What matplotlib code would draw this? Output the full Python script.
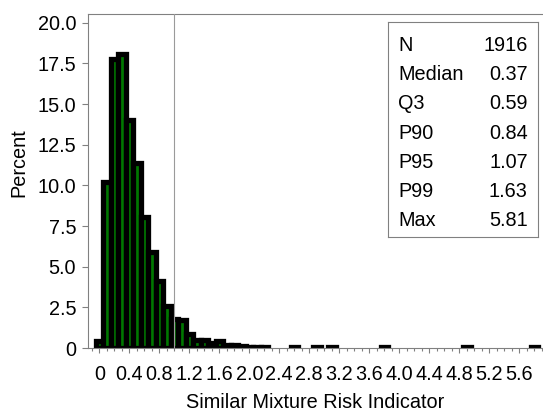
import matplotlib
matplotlib.use('Agg')
import matplotlib.pyplot as plt
from matplotlib.ticker import MultipleLocator, FixedLocator, FuncFormatter

plt.rcParams['font.family'] = ['Liberation Sans', 'DejaVu Sans']

# histogram bins (midpoints) and percent of observations
bin_mids = [0.0, 0.1, 0.2, 0.3, 0.4, 0.5, 0.6, 0.7, 0.8, 0.9,
            1.0, 1.1, 1.2, 1.3, 1.4, 1.5, 1.6, 1.7, 1.8, 1.9,
            2.0, 2.1, 2.2, 2.6, 2.9, 3.1, 3.8, 4.9, 5.8]
percents = [0.42, 10.2, 17.75, 18.1, 14.05, 11.4, 8.06, 5.93, 4.1, 2.6,
            1.8, 1.7, 0.85, 0.5, 0.5, 0.3, 0.4, 0.16, 0.16, 0.1,
            0.05, 0.05, 0.05, 0.05, 0.05, 0.05, 0.05, 0.05, 0.05]

x_major = [0, 0.4, 0.8, 1.2, 1.6, 2.0, 2.4, 2.8, 3.2, 3.6, 4.0, 4.4, 4.8, 5.2, 5.6]
y_major = [0, 2.5, 5.0, 7.5, 10.0, 12.5, 15.0, 17.5, 20.0]
ref_value = 1.0

stat_labels = ['N', 'Median', 'Q3', 'P90', 'P95', 'P99', 'Max']
stat_values = ['1916', '0.37', '0.59', '0.84', '1.07', '1.63', '5.81']

GRAY = '#808080'
FS = 14.3

fig = plt.figure(figsize=(5.43, 4.13), dpi=100)
ax = fig.add_axes([88 / 543, 65 / 413, 455 / 543, 334 / 413])

ax.bar(bin_mids, percents, width=0.1, color='#007800', edgecolor='black',
       linewidth=3.8, zorder=2)
ax.axvline(ref_value, color='#9a9a9a', linewidth=0.8, zorder=3)

ax.set_xlim(-0.15, 5.916)
ax.set_ylim(0, 20.54)

ax.xaxis.set_major_locator(FixedLocator(x_major))
ax.xaxis.set_minor_locator(MultipleLocator(0.1))
ax.yaxis.set_major_locator(FixedLocator(y_major))
fmt = FuncFormatter(lambda v, p: '0' if abs(v) < 1e-9 else f'{v:.1f}')
ax.xaxis.set_major_formatter(fmt)
ax.yaxis.set_major_formatter(fmt)

ax.tick_params(axis='x', which='major', length=3.6, width=0.8, color=GRAY,
               labelsize=FS, pad=9)
ax.tick_params(axis='x', which='minor', length=1.8, width=0.8, color=GRAY)
ax.tick_params(axis='y', which='major', length=4, width=0.8, color=GRAY,
               labelsize=FS, pad=4.5)

for side in ['left', 'top', 'bottom']:
    ax.spines[side].set_color(GRAY)
    ax.spines[side].set_linewidth(0.8)
ax.spines['right'].set_visible(False)

ax.set_ylabel('Percent', fontsize=FS)
ax.yaxis.set_label_coords(-0.131, 0.555)
ax.set_xlabel('Similar Mixture Risk Indicator', fontsize=FS)
ax.xaxis.set_label_coords(0.5, -0.135)

# summary statistics box
box = ax.inset_axes([0.6587, 0.3314, 0.331, 0.6456])
box.set_xticks([])
box.set_yticks([])
box.set_xlim(0, 1)
box.set_ylim(0, 1)
box.patch.set_facecolor('white')
for s in box.spines.values():
    s.set_color(GRAY)
    s.set_linewidth(0.8)
for i, (lab, val) in enumerate(zip(stat_labels, stat_values)):
    y = (237.3 - (45.5 + 29.2 * i)) / 215.6
    box.text(0.07, y, lab, fontsize=FS, va='center', ha='left')
    box.text(0.93, y, val, fontsize=FS, va='center', ha='right')

fig.savefig('out.png', dpi=100)
